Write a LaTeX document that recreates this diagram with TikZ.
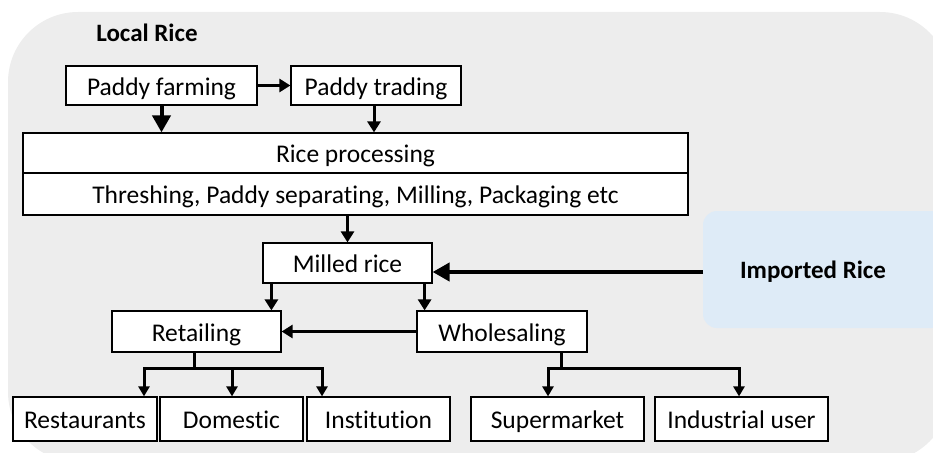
\documentclass[tikz,border=0pt]{standalone}
\usepackage{fontspec}
\setmainfont[Ligatures=NoCommon]{Carlito}
\usetikzlibrary{arrows.meta,calc}
\definecolor{bggray}{HTML}{EDEDED}
\definecolor{impblue}{HTML}{DEEBF7}
\tikzset{
  box/.style={draw=black, line width=1.2pt, fill=white, inner sep=0pt, anchor=center,
    text height=19.5pt, text depth=0pt,
    font=\fontsize{25.5}{30}\selectfont},
  arr/.style={line width=3pt, -{Triangle[width=13pt,length=11pt]}},
  bigarr/.style={line width=4pt, -{Triangle[width=18pt,length=17pt]}},
  smallarr/.style={line width=3pt, -{Triangle[width=11pt,length=10pt]}},
  ln/.style={line width=3pt},
  title/.style={font=\fontsize{25}{30}\selectfont\bfseries, inner sep=0pt}
}
\begin{document}
\begin{tikzpicture}[x=1pt,y=-1pt]
\useasboundingbox (0,0) rectangle (933,452);
\clip (0,0) rectangle (933,452);
\fill[bggray, rounded corners=70pt] (8,12) rectangle (950,462);
\fill[impblue, rounded corners=14pt] (703,211) rectangle (945,328);
\node[title] (imp) at (813,272) {Imported Rice};
\coordinate (impw) at (703,272);
\node[title] (local) at (147,33) {Local Rice};

\node[box, minimum width=191pt, minimum height=39pt] (farm) at (161.5,85.5) {Paddy farming};
\node[box, minimum width=170pt, minimum height=39pt] (trade) at (376,85.5) {Paddy trading};
\node[box, minimum width=665pt, minimum height=40pt] (proc1) at (355.5,153) {Rice processing};
\node[box, minimum width=665pt, minimum height=42pt] (proc2) at (355.5,194) {Threshing, Paddy separating, Milling, Packaging etc};
\node[box, minimum width=169pt, minimum height=40pt] (milled) at (347.5,263) {Milled rice};
\node[box, minimum width=169pt, minimum height=41pt] (retail) at (196.5,331.5) {Retailing};
\node[box, minimum width=170pt, minimum height=41pt] (whole) at (502,331.5) {Wholesaling};
\node[box, minimum width=144pt, minimum height=44pt] (rest) at (85,419) {Restaurants};
\node[box, minimum width=143pt, minimum height=44pt] (dom) at (231.5,419) {Domestic};
\node[box, minimum width=143pt, minimum height=44pt] (inst) at (378.5,419) {Institution};
\node[box, minimum width=173pt, minimum height=44pt] (super) at (557.5,419) {Supermarket};
\node[box, minimum width=173pt, minimum height=44pt] (indus) at (741.5,419) {Industrial user};

\draw[arr] (farm.east) -- (trade.west);
\draw[bigarr] (farm.south) -- (farm.south |- proc1.north);
\draw[arr] ([xshift=-2pt]trade.south) -- ([xshift=-2pt]trade.south |- proc1.north);
\draw[arr] (milled.north |- proc2.south) -- (milled.north);
\draw[bigarr] (impw) -- (milled.east |- impw);
\draw[arr] ([xshift=9pt]milled.south west) -- ([xshift=9pt]milled.south west |- retail.north);
\draw[arr] ([xshift=-8pt]milled.south east) -- ([xshift=-8pt]milled.south east |- whole.north);
\draw[arr] (whole.west) -- (retail.east);

\coordinate (rj) at (194,368);
\coordinate (rl) at (144,368);
\coordinate (rm) at (232,368);
\coordinate (rr) at (322,368);
\draw[ln] (retail.south -| rj) -- (rj);
\draw[ln, line cap=rect] (rl) -- (rr);
\draw[smallarr] (rl) -- (rl |- rest.north);
\draw[smallarr] (rm) -- (rm |- dom.north);
\draw[smallarr] (rr) -- (rr |- inst.north);

\coordinate (wj) at (561,368);
\coordinate (wl) at (548,368);
\coordinate (wr) at (739,368);
\draw[ln] (whole.south -| wj) -- (wj);
\draw[ln, line cap=rect] (wl) -- (wr);
\draw[smallarr] (wl) -- (wl |- super.north);
\draw[smallarr] (wr) -- (wr |- indus.north);
\end{tikzpicture}
\end{document}
